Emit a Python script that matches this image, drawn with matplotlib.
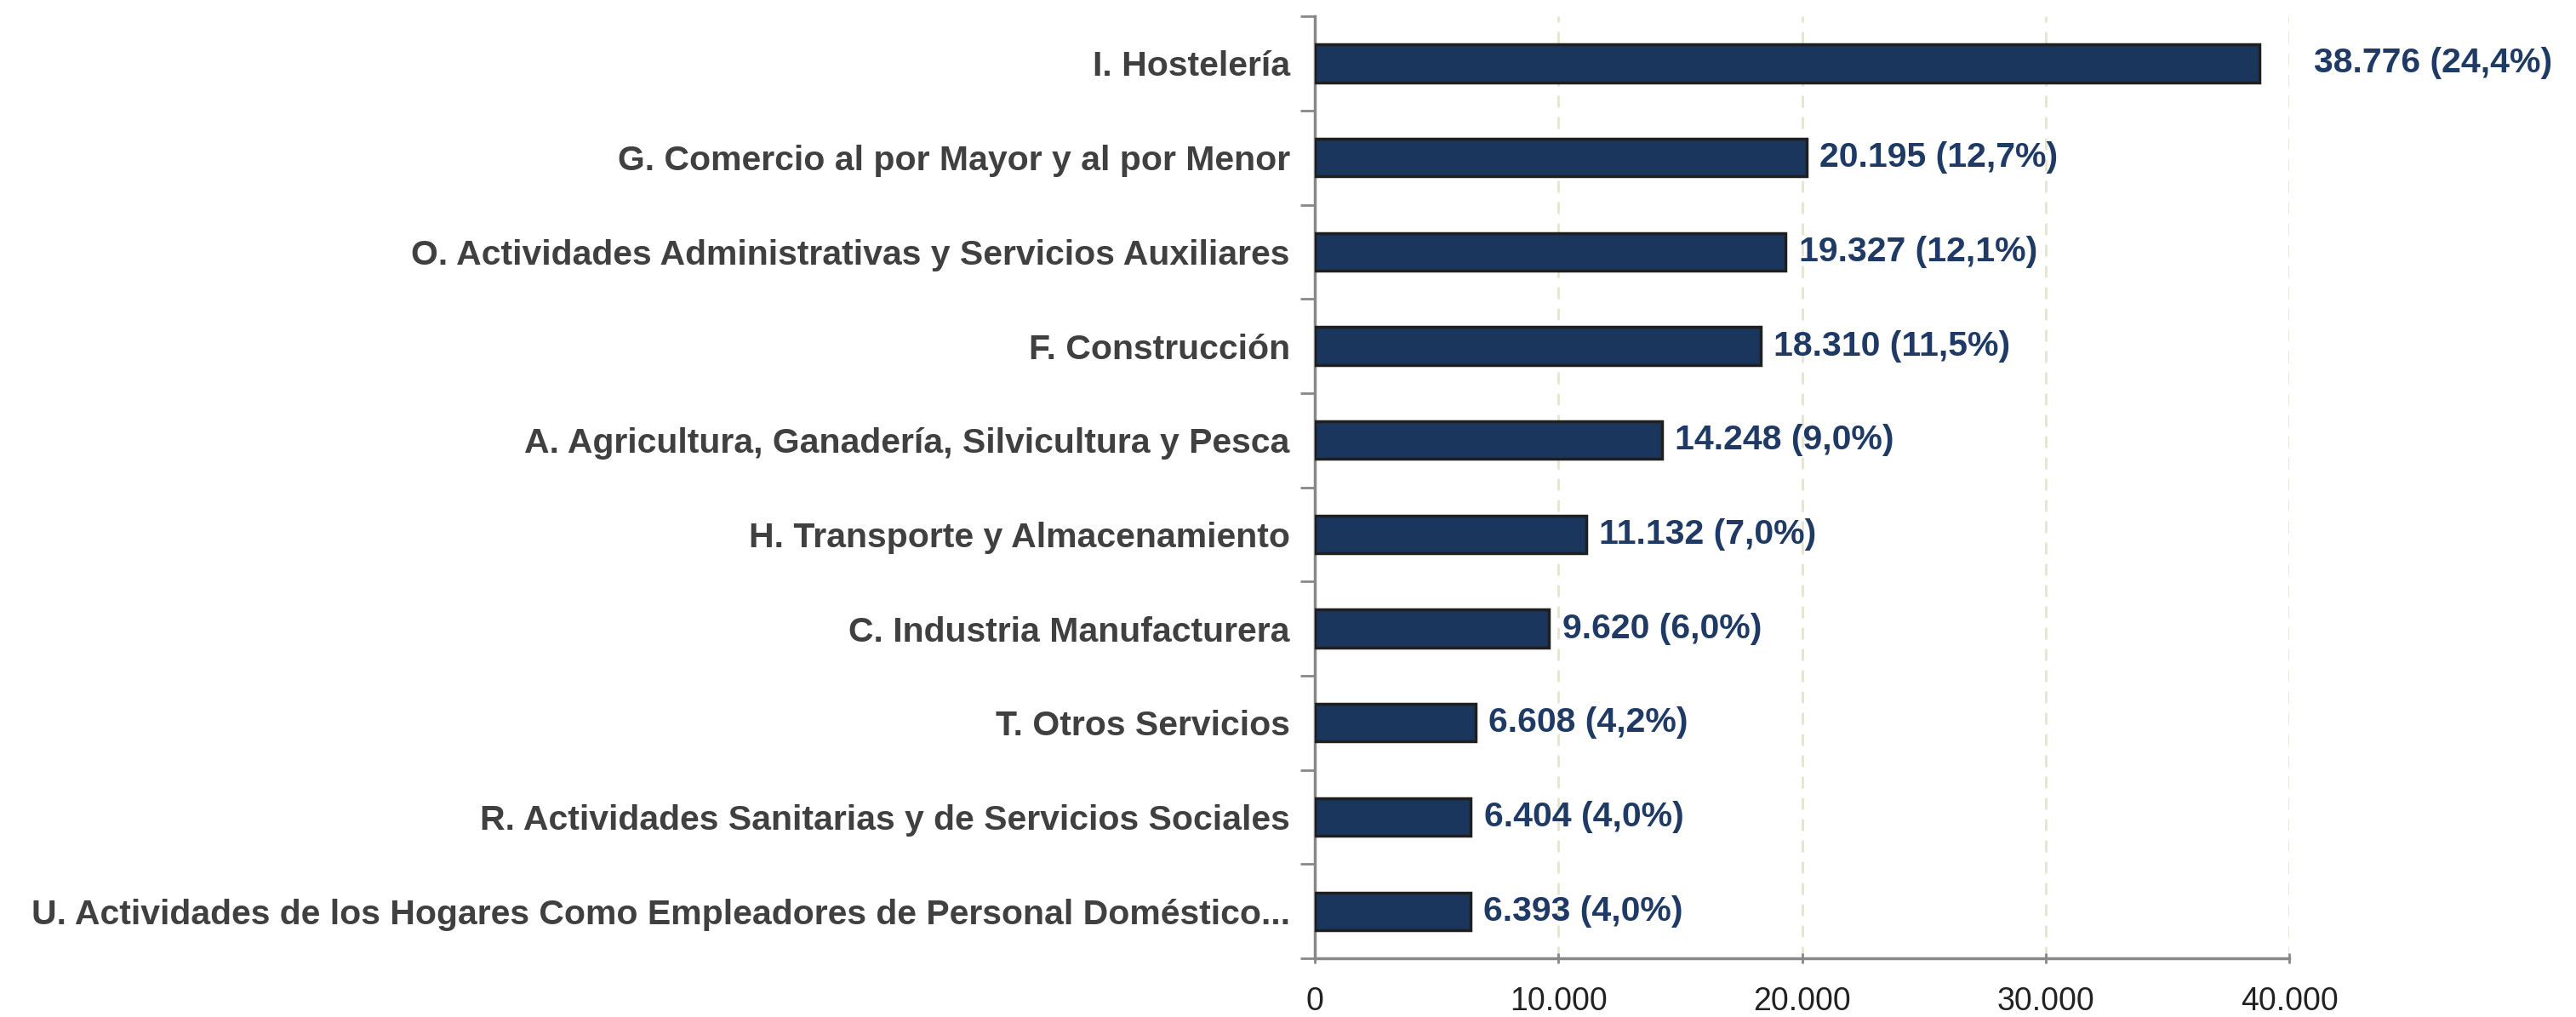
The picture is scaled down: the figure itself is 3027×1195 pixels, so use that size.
import matplotlib.pyplot as plt
import numpy as np
from matplotlib.ticker import FuncFormatter

categorias = [
    "I. Hostelería",
    "G. Comercio al por Mayor y al por Menor",
    "O. Actividades Administrativas y Servicios Auxiliares",
    "F. Construcción",
    "A. Agricultura, Ganadería, Silvicultura y Pesca",
    "H. Transporte y Almacenamiento",
    "C. Industria Manufacturera",
    "T. Otros Servicios",
    "R. Actividades Sanitarias y de Servicios Sociales",
    "U. Actividades de los Hogares Como Empleadores de Personal Doméstico...",
]
valores = [38776, 20195, 19327, 18310, 14248, 11132, 9620, 6608, 6404, 6393]
porcentajes = ["24,4%", "12,7%", "12,1%", "11,5%", "9,0%", "7,0%", "6,0%", "4,2%", "4,0%", "4,0%"]
ticks_x = [0, 10000, 20000, 30000, 40000]

plt.rcParams["font.family"] = ["Liberation Sans", "DejaVu Sans"]

fig = plt.figure(figsize=(30.27, 11.95), dpi=100)
ax = fig.add_axes([0.5104, 0.0577, 0.3783, 0.9263])

y = np.arange(len(categorias))
ax.barh(y, valores, height=0.4, color="#1a365c", edgecolor="#1f1f1f", linewidth=2.5, zorder=3)

ax.set_ylim(len(categorias) - 0.5, -0.5)
ax.set_xlim(0, 40000)

# etiquetas de las barras
for i, (v, p) in enumerate(zip(valores, porcentajes)):
    desp = 46 if i == 0 else 11
    ax.annotate(f"{v:,}".replace(",", ".") + f" ({p})", xy=(v, i), xytext=(desp, 0),
                textcoords="offset points", va="center", ha="left",
                fontsize=29.5, fontweight="bold", color="#1f3a64", annotation_clip=False)

# ejes
ax.set_yticks(y)
ax.set_yticklabels(categorias, fontsize=29.5, fontweight="bold", color="#404040")
ax.set_yticks(np.arange(len(categorias) + 1) - 0.5, minor=True)
ax.tick_params(axis="y", which="major", length=0, pad=21)
ax.tick_params(axis="y", which="minor", length=12, width=2, color="#888888")

ax.set_xticks(ticks_x)
ax.xaxis.set_major_formatter(FuncFormatter(lambda x, pos: f"{int(x):,}".replace(",", ".")))
ax.tick_params(axis="x", length=8, width=2, color="#888888", labelsize=27, pad=20,
               direction="inout", labelcolor="#222222")

for s in ["top", "right"]:
    ax.spines[s].set_visible(False)
for s in ["left", "bottom"]:
    ax.spines[s].set_color("#888888")
    ax.spines[s].set_linewidth(2.5)

ax.grid(axis="x", linestyle=(0, (5, 4)), color="#e3e6cc", linewidth=2, zorder=0)

plt.savefig("out.png", dpi=100)
